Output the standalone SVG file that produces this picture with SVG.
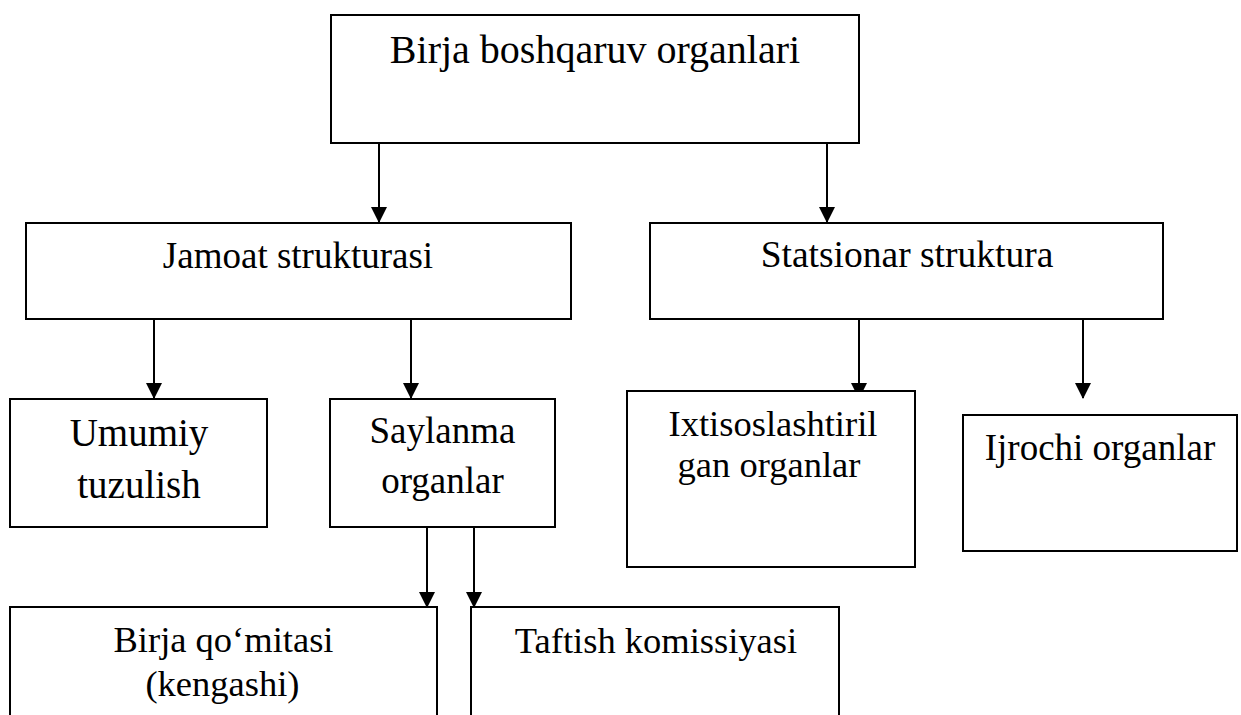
<svg xmlns="http://www.w3.org/2000/svg" width="1241" height="715" viewBox="0 0 1241 715">
<style>
.box{fill:#fff;stroke:#000;stroke-width:2}
.t{font-family:"Liberation Serif","Times New Roman",serif;fill:#000;text-anchor:middle}
.c{stroke:#000;stroke-width:2;fill:none;marker-end:url(#ah)}
</style>
<defs>
<marker id="ah" markerUnits="userSpaceOnUse" markerWidth="16" markerHeight="16" refX="15" refY="8" orient="auto" viewBox="0 0 16 16">
<path d="M0,0 L16,8 L0,16 z" fill="#000"/>
</marker>
</defs>
<rect width="1241" height="715" fill="#fff"/>
<g id="connectors">
<line class="c" x1="379" y1="143" x2="379" y2="222"/>
<line class="c" x1="827" y1="143" x2="827" y2="222"/>
<line class="c" x1="154" y1="319" x2="154" y2="398"/>
<line class="c" x1="411" y1="319" x2="411" y2="398"/>
<line class="c" x1="859" y1="319" x2="859" y2="398"/>
<line class="c" x1="1083" y1="319" x2="1083" y2="398"/>
<line class="c" x1="427" y1="527" x2="427" y2="607"/>
<line class="c" x1="474" y1="527" x2="474" y2="607"/>
</g>
<g id="n-top">
<rect class="box" x="331" y="15" width="528" height="128"/>
<text class="t" x="595" y="63" font-size="40">Birja boshqaruv organlari</text>
</g>
<g id="n-jamoat">
<rect class="box" x="26" y="223" width="545" height="96"/>
<text class="t" x="298" y="268" font-size="37">Jamoat strukturasi</text>
</g>
<g id="n-statsionar">
<rect class="box" x="650" y="223" width="513" height="96"/>
<text class="t" x="907" y="267" font-size="37.5">Statsionar struktura</text>
</g>
<g id="n-umumiy">
<rect class="box" x="10" y="399" width="257" height="128"/>
<text class="t" x="139" y="446" font-size="39">Umumiy</text>
<text class="t" x="139" y="498" font-size="39">tuzulish</text>
</g>
<g id="n-saylanma">
<rect class="box" x="330" y="399" width="225" height="128"/>
<text class="t" x="442.5" y="443" font-size="37">Saylanma</text>
<text class="t" x="442.5" y="493" font-size="37">organlar</text>
</g>
<g id="n-ixtis">
<rect class="box" x="627" y="391" width="288" height="176"/>
<text class="t" x="773" y="436" font-size="36.5">Ixtisoslashtiril</text>
<text class="t" x="769" y="477" font-size="36.5">gan organlar</text>
</g>
<g id="n-ijrochi">
<rect class="box" x="963" y="415" width="274" height="136"/>
<text class="t" x="1100" y="460" font-size="37">Ijrochi organlar</text>
</g>
<g id="n-qomita">
<rect class="box" x="10" y="607" width="427" height="130"/>
<text class="t" x="223.5" y="652" font-size="36.5">Birja qo‘mitasi</text>
<text class="t" x="222.5" y="696" font-size="36.5">(kengashi)</text>
</g>
<g id="n-taftish">
<rect class="box" x="471" y="607" width="368" height="130"/>
<text class="t" x="656" y="653" font-size="36.5">Taftish komissiyasi</text>
</g>
</svg>
